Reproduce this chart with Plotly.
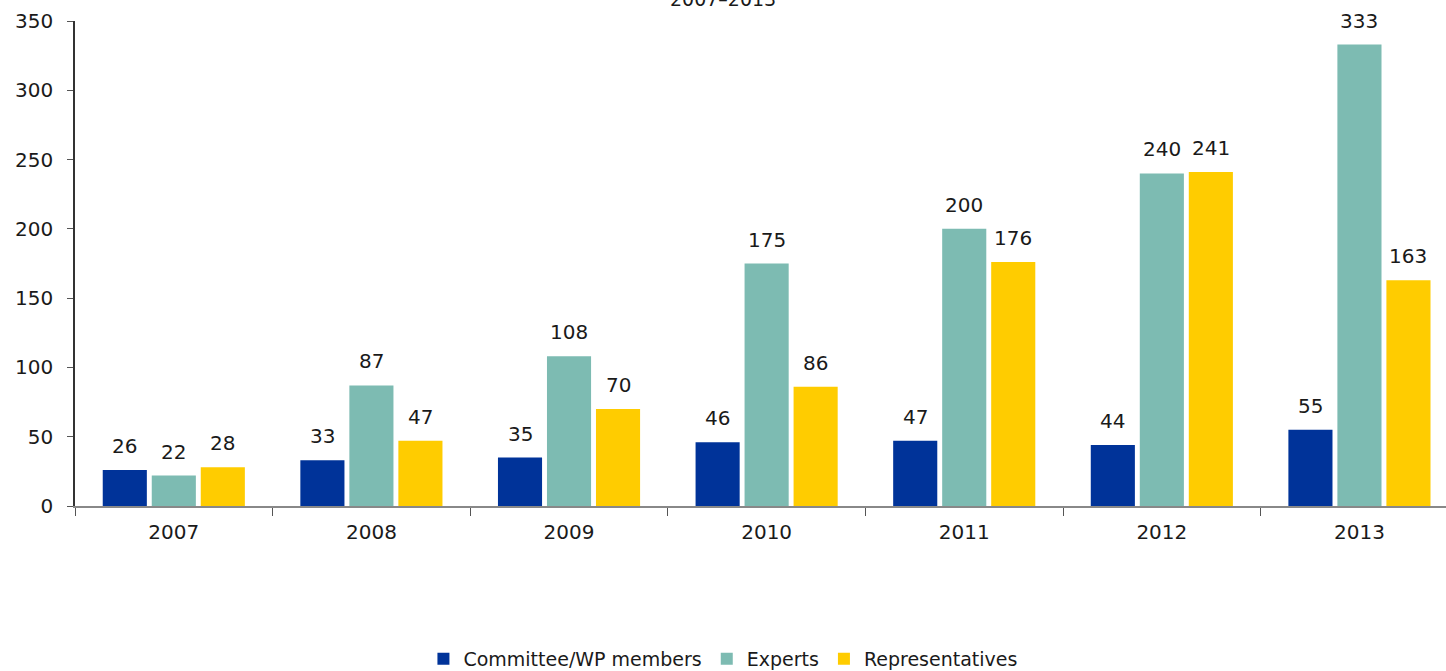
import plotly.graph_objects as go

years = ["2007", "2008", "2009", "2010", "2011", "2012", "2013"]
committee = [26, 33, 35, 46, 47, 44, 55]
experts = [22, 87, 108, 175, 200, 240, 333]
representatives = [28, 47, 70, 86, 176, 241, 163]

series = [
    ("Committee/WP members", committee, "#003399"),
    ("Experts", experts, "#7DBBB2"),
    ("Representatives", representatives, "#FFCC00"),
]

FONT = "DejaVu Sans, Verdana, sans-serif"
BARGAP = 0.256

fig = go.Figure()
for name, vals, color in series:
    fig.add_trace(go.Bar(
        x=years, y=vals, name=name,
        marker=dict(color=color, line=dict(width=0)),
        hoverinfo="x+y+name",
    ))

# value labels above each bar, placed at the grouped-bar slot centres
slot = (1 - BARGAP) / len(series)
for i, (name, vals, color) in enumerate(series):
    offset = (i - (len(series) - 1) / 2) * slot
    for j, v in enumerate(vals):
        fig.add_annotation(
            x=j + offset, y=v, xref="x", yref="y",
            text=str(v), showarrow=False,
            yanchor="bottom", yshift=10,
            font=dict(size=20, color="#1a1a1a", family=FONT),
        )

# chart subtitle, partly above the top edge
fig.add_annotation(
    x=0.4726, y=1, xref="paper", yref="paper",
    text="2007\u20132013", showarrow=False,
    yanchor="middle", yshift=22,
    font=dict(size=19, color="#1a1a1a", family=FONT),
)

fig.update_layout(
    width=1446, height=671,
    margin=dict(l=75, r=0, t=21, b=165, autoexpand=False),
    paper_bgcolor="white", plot_bgcolor="white",
    barmode="group", bargap=BARGAP, bargroupgap=0.1,
    font=dict(family=FONT, size=20, color="#1a1a1a"),
    showlegend=True,
    legend=dict(
        orientation="h", x=0.4726, xanchor="center", y=-0.315, yanchor="middle",
        font=dict(size=19, family=FONT, color="#1a1a1a"),
        itemwidth=30, tracegroupgap=0,
    ),
    xaxis=dict(
        type="category", range=[-0.5, 6.438], automargin=False,
        showline=True, linecolor="#888888", linewidth=1.5,
        ticks="outside", tickson="boundaries", ticklen=8, tickcolor="#555555",
        showgrid=False, tickfont=dict(size=20), ticklabelstandoff=7,
    ),
    yaxis=dict(
        range=[0, 350], dtick=50, automargin=False,
        showline=True, linecolor="#333333", linewidth=1.5,
        ticks="outside", ticklen=6, tickcolor="#555555",
        showgrid=False, zeroline=False, tickfont=dict(size=20),
        ticklabelstandoff=10,
    ),
)

fig.write_html("out.html")
